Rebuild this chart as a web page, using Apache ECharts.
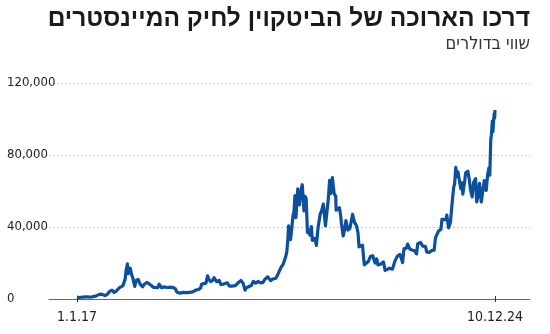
<!DOCTYPE html>
<html><head><meta charset="utf-8">
<script src="https://cdn.jsdelivr.net/npm/echarts@6/dist/echarts.min.js"></script>
<style>html,body{margin:0;padding:0;background:#fff}#c{width:550px;height:334px}</style>
</head><body><div id="c"></div><script>
const titleText = 'דרכו הארוכה של הביטקוין לחיק המיינסטרים';
const subtitleText = 'שווי בדולרים';

const dates = [
'2017-01-01','2017-01-15','2017-02-01','2017-02-15','2017-03-01','2017-03-15','2017-04-01','2017-04-15','2017-05-01','2017-05-15','2017-05-25','2017-06-01','2017-06-12','2017-06-20','2017-07-01','2017-07-15','2017-08-01','2017-08-15','2017-09-01','2017-09-15','2017-10-01','2017-10-15','2017-11-01','2017-11-15','2017-12-01','2017-12-08','2017-12-17','2017-12-22','2017-12-28',
'2018-01-06','2018-01-15','2018-01-25','2018-02-06','2018-02-15','2018-03-01','2018-03-15','2018-04-01','2018-04-15','2018-05-01','2018-05-15','2018-06-01','2018-06-15','2018-07-01','2018-07-15','2018-07-25','2018-08-10','2018-08-25','2018-09-05','2018-09-20','2018-10-10','2018-11-01','2018-11-15','2018-11-25','2018-12-05','2018-12-15','2018-12-25',
'2019-01-10','2019-02-01','2019-02-20','2019-03-15','2019-04-05','2019-04-25','2019-05-10','2019-05-15','2019-06-01','2019-06-15','2019-06-26','2019-07-05','2019-07-17','2019-08-01','2019-08-10','2019-08-29','2019-09-15','2019-09-26','2019-10-15','2019-10-26','2019-11-10','2019-11-25','2019-12-10','2019-12-20',
'2020-01-05','2020-01-20','2020-02-13','2020-02-28','2020-03-12','2020-03-20','2020-04-05','2020-04-25','2020-05-08','2020-05-25','2020-06-10','2020-06-27','2020-07-15','2020-07-28','2020-08-17','2020-09-05','2020-09-20','2020-10-10','2020-10-22','2020-11-05','2020-11-18','2020-12-01','2020-12-10','2020-12-20','2020-12-27',
'2021-01-03','2021-01-08','2021-01-15','2021-01-22','2021-02-01','2021-02-08','2021-02-15','2021-02-21','2021-02-28','2021-03-13','2021-03-25','2021-04-01','2021-04-13','2021-04-25','2021-05-03','2021-05-10','2021-05-19','2021-05-25','2021-06-05','2021-06-15','2021-06-22','2021-07-01','2021-07-10','2021-07-20','2021-08-01','2021-08-15','2021-08-25','2021-09-06','2021-09-21','2021-10-01','2021-10-10','2021-10-20','2021-10-27','2021-11-08','2021-11-20','2021-12-01','2021-12-04','2021-12-15','2021-12-27',
'2022-01-05','2022-01-10','2022-01-22','2022-02-01','2022-02-10','2022-02-24','2022-03-10','2022-03-28','2022-04-10','2022-04-25','2022-05-05','2022-05-12','2022-05-25','2022-06-05','2022-06-13','2022-06-18','2022-07-01','2022-07-15','2022-07-30','2022-08-15','2022-08-31','2022-09-12','2022-09-20','2022-10-10','2022-10-28','2022-11-05','2022-11-09','2022-11-20','2022-12-10','2022-12-30',
'2023-01-15','2023-02-01','2023-02-20','2023-03-10','2023-03-20','2023-04-05','2023-04-14','2023-05-01','2023-05-15','2023-06-01','2023-06-15','2023-06-23','2023-07-13','2023-07-28','2023-08-15','2023-08-25','2023-09-10','2023-10-01','2023-10-15','2023-10-24','2023-11-05','2023-11-15','2023-12-01','2023-12-08','2023-12-20',
'2024-01-05','2024-01-11','2024-01-23','2024-02-05','2024-02-15','2024-02-28','2024-03-05','2024-03-13','2024-03-20','2024-03-28','2024-04-08','2024-04-17','2024-04-25','2024-05-01','2024-05-15','2024-05-21','2024-06-05','2024-06-15','2024-06-24','2024-07-05','2024-07-15','2024-07-29','2024-08-05','2024-08-15','2024-08-25','2024-09-06','2024-09-15','2024-09-27','2024-10-10','2024-10-20','2024-10-29','2024-11-04','2024-11-11','2024-11-15','2024-11-22','2024-11-26','2024-12-01','2024-12-05','2024-12-08','2024-12-10'
];
const prices = [
1000,820,990,1010,1220,1250,1080,1180,1420,1750,2400,2400,2950,2700,2500,1930,2750,4200,4900,3700,4400,5700,6750,7300,10900,16000,19500,14000,15500,
17100,13600,11200,7000,10200,10900,8300,6800,8300,9200,8500,7500,6500,6400,6350,8200,6300,6700,7400,6400,6600,6350,5600,3900,3800,3250,4000,
3650,3500,3700,3950,4950,5300,6300,8200,8550,8800,12900,11000,9700,10400,11800,9600,10300,8100,8300,9250,9000,7100,7200,7150,
7400,8700,10300,8700,4900,6200,6800,7550,9800,8800,9750,9000,9250,11000,12300,10200,11100,11400,13000,15500,17800,19200,18200,23800,26300,
32800,40600,36800,33000,33500,46400,48700,57500,45200,61200,52300,59000,63500,49000,57000,55800,37000,38400,35500,40200,32500,33500,33700,29800,39900,47000,48900,52700,40700,48200,55000,65900,58500,67500,58500,57200,49300,48900,50700,
45900,41800,35000,38700,43500,38300,39300,47100,42700,40500,36500,29000,29500,29900,22500,19000,19300,20800,23600,24100,20000,22300,18900,19400,20600,21300,15900,16300,17100,16600,
20900,23700,24800,20200,28000,28200,30500,27600,27200,26800,25100,30700,31400,29300,29200,26100,25800,27000,27100,33900,35000,37900,38700,44200,43700,
44100,46600,39500,42600,51900,62400,63800,73100,67900,70700,71600,61300,64500,58300,66300,70100,71000,66200,60300,56700,64800,66800,54000,57600,64200,53900,59100,65800,60300,69000,72700,68800,88700,91000,98900,93000,100000,103000,100500,105000
];
const xTickDates = ['2017-01-01','2024-12-10'];
const xTickLabels = ['1.1.17','10.12.24'];
const yTicks = [0, 40000, 80000, 120000];

const ts = d => new Date(d + 'T00:00:00Z').getTime();
const DAY = 86400000;
const xMin = ts('2017-01-01') - 194 * DAY;
const xMax = ts('2024-12-10') + 243 * DAY;
const tickVals = xTickDates.map(ts);
const seriesData = dates.map((d, i) => [ts(d), prices[i]]);
const NUM_FONT = '"DejaVu Sans Condensed","Liberation Sans Narrow",sans-serif';

const chart = echarts.init(document.getElementById('c'), null, {renderer: 'canvas'});
chart.setOption({
  animation: false,
  backgroundColor: '#fff',
  title: [{
    text: titleText, right: 20, top: 7, padding: 0,
    textStyle: {fontFamily: '"Liberation Sans","DejaVu Sans",sans-serif', fontWeight: 'bold', fontSize: 24.5, color: '#1a1a1a'}
  }, {
    text: subtitleText, right: 20, top: 35, padding: 0,
    textStyle: {fontFamily: NUM_FONT, fontWeight: 'normal', fontSize: 18, color: '#333'}
  }],
  grid: {left: 49, right: 20, top: 83, bottom: 35, containLabel: false},
  xAxis: [{
    type: 'value', min: xMin, max: xMax,
    axisLine: {show: true, lineStyle: {color: '#666', width: 1}},
    axisTick: {show: true, length: 3, customValues: tickVals, lineStyle: {color: '#333', width: 1}},
    axisLabel: {show: true, customValues: tickVals, margin: 11, fontSize: 14, fontFamily: NUM_FONT, color: '#222',
      formatter: v => { const i = tickVals.findIndex(t => Math.abs(t - v) < DAY); return i >= 0 ? xTickLabels[i] : ''; }},
    splitLine: {show: false}
  }, {
    type: 'value', min: xMin, max: xMax, position: 'bottom',
    axisLine: {show: false},
    axisTick: {show: true, inside: true, length: 3, customValues: tickVals, lineStyle: {color: '#333', width: 1}},
    axisLabel: {show: false}, splitLine: {show: false}
  }],
  yAxis: {
    type: 'value', min: 0, max: 120000, interval: 40000,
    axisLine: {show: false}, axisTick: {show: false},
    axisLabel: {align: 'left', margin: 42, fontSize: 13, fontFamily: NUM_FONT, color: '#222',
      formatter: v => v.toLocaleString('en-US')},
    splitLine: {show: true, lineStyle: {color: '#c8c8c8', type: [2, 2], width: 1}}
  },
  series: [{
    type: 'line', data: seriesData, showSymbol: false, symbol: 'none', smooth: false,
    lineStyle: {color: '#0b4f9e', width: 3.2, join: 'round'}, z: 3
  }]
});
</script></body></html>
